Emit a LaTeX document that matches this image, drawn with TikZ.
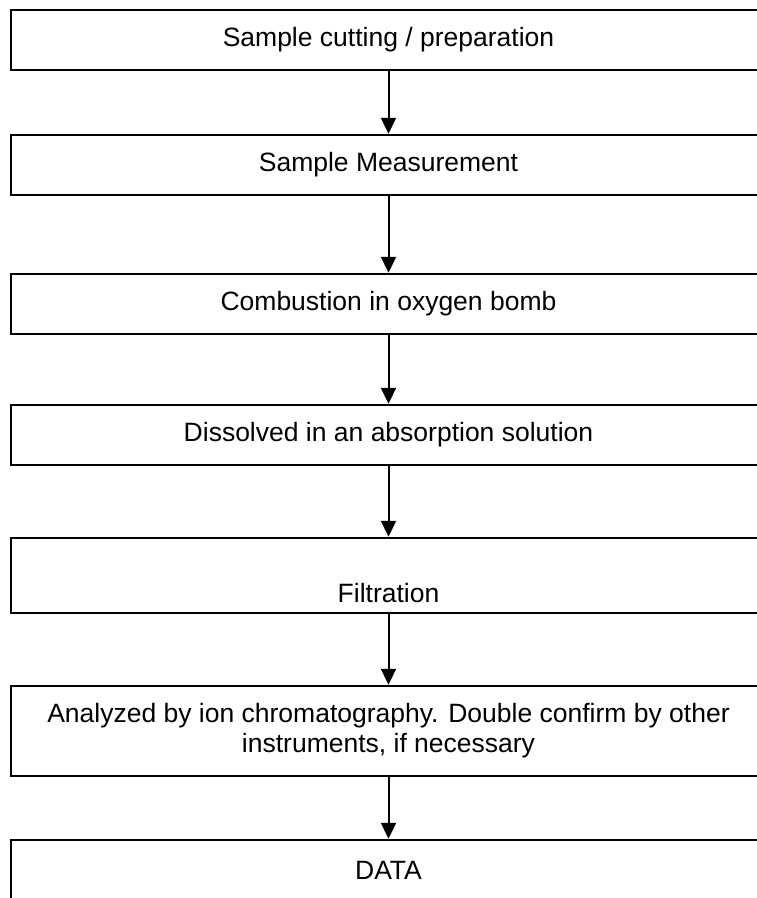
\documentclass[tikz,border=0pt]{standalone}
\usepackage{fontspec}
\setmainfont{Liberation Sans}
\usetikzlibrary{arrows.meta}
\begin{document}
\begin{tikzpicture}[x=1pt,y=-1pt,
  stepbox/.style={draw=black, line width=2.4pt, minimum width=755pt, inner sep=0pt, font=\fontsize{26.5pt}{30pt}\selectfont, align=center},
  txt/.style={inner sep=0pt, font=\fontsize{26.5pt}{30pt}\selectfont, align=center},
  arr/.style={line width=2pt, -{Triangle[length=16pt,width=15pt]}, shorten >=0pt}
]
\useasboundingbox (0,0) rectangle (757,898);
\clip (0,0) rectangle (757,898);
\fill[white] (0,0) rectangle (757,898);
\node[stepbox, minimum height=60pt] (b1) at (388.5,40) {Sample cutting / preparation};
\node[stepbox, minimum height=60pt] (b2) at (388.5,165) {Sample Measurement};
\node[stepbox, minimum height=60pt] (b3) at (388.5,304) {Combustion in oxygen bomb};
\node[stepbox, minimum height=60pt] (b4) at (388.5,435) {Dissolved in an absorption solution};
\node[stepbox, minimum height=75pt] (b5) at (388.5,575.5) {};
\node[txt] (t5) at ([yshift=21pt]b5.south) {Filtration};
\node[stepbox, minimum height=90pt] (b6) at (388.5,731) {Analyzed by ion chromatography. Double confirm by other\\instruments, if necessary};
\node[stepbox, minimum height=60pt] (b7) at (388.5,870) {DATA};
\draw[arr] (b1.south) -- (b2.north);
\draw[arr] (b2.south) -- (b3.north);
\draw[arr] (b3.south) -- (b4.north);
\draw[arr] (b4.south) -- (b5.north);
\draw[arr] (b5.south) -- (b6.north);
\draw[arr] (b6.south) -- (b7.north);
\end{tikzpicture}
\end{document}
